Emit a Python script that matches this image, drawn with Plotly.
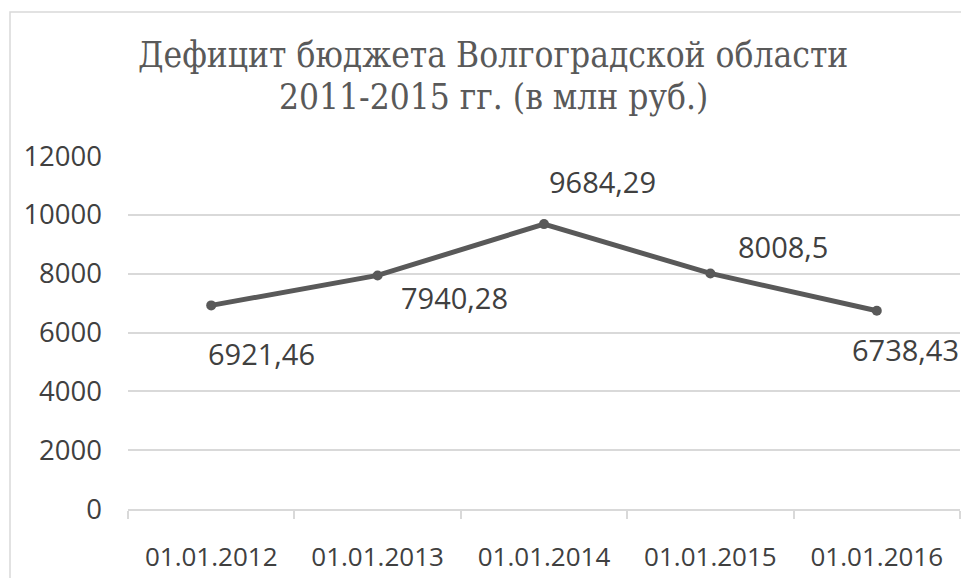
import plotly.graph_objects as go

categories = ["01.01.2012", "01.01.2013", "01.01.2014", "01.01.2015", "01.01.2016"]
values = [6921.46, 7940.28, 9684.29, 8008.5, 6738.43]
title_lines = ["Дефицит бюджета Волгоградской области", "2011-2015 гг. (в млн руб.)"]
y_ticks = [0, 2000, 4000, 6000, 8000, 10000, 12000]

# label placement offsets (pixels) relative to each point
label_dx = [-5, 21, 3, 26, -27]
label_dy = [-48, -22, 43, 27, -39]

W, H = 961, 578
L, R, T, B = 128, 1, 156, 69
pw, ph = W - L - R, H - T - B

def px_to_paper_x(px):
    return (px - L) / pw

def px_to_paper_y(py):
    return 1 + (T - py) / ph

fig = go.Figure()
fig.add_trace(go.Scatter(
    x=categories, y=values, mode="lines+markers",
    line=dict(color="#595959", width=5),
    marker=dict(color="#595959", size=10),
    hoverinfo="skip", showlegend=False,
))

annotations = []
for c, v, dx, dy in zip(categories, values, label_dx, label_dy):
    annotations.append(dict(
        x=c, y=v, xref="x", yref="y", text=f"{v:g}".replace(".", ","),
        showarrow=False, xanchor="left", yanchor="middle",
        xshift=dx, yshift=dy,
        font=dict(family="Open Sans", size=29, color="#404040"),
    ))

title_centres = [54.5, 97.5]
for line, cy in zip(title_lines, title_centres):
    annotations.append(dict(
        x=px_to_paper_x(493), y=px_to_paper_y(cy), xref="paper", yref="paper",
        text=line, showarrow=False, xanchor="center", yanchor="middle",
        font=dict(family="DejaVu Serif Condensed, DejaVu Serif", size=35, color="#595959"),
    ))

fig.update_layout(
    width=W, height=H,
    margin=dict(l=L, r=R, t=T, b=B, pad=0),
    paper_bgcolor="white", plot_bgcolor="white",
    annotations=annotations,
    xaxis=dict(
        type="category", range=[-0.5, 4.5], tickson="boundaries",
        ticks="outside", ticklen=8, tickcolor="#d9d9d9", tickwidth=1.5,
        showgrid=False, showline=True, linecolor="#d9d9d9", linewidth=1.5,
        tickfont=dict(family="Open Sans", size=26, color="#404040"),
        ticklabelstandoff=24, zeroline=False,
    ),
    yaxis=dict(
        range=[0, 12000], tickvals=y_ticks, tickformat="d",
        showgrid=True, gridcolor="#d9d9d9", gridwidth=1.5,
        zeroline=False, showline=False, ticks="",
        tickfont=dict(family="Open Sans", size=27.5, color="#404040"),
        ticklabelstandoff=25,
    ),
    shapes=[dict(
        type="rect", xref="paper", yref="paper",
        x0=px_to_paper_x(10), x1=px_to_paper_x(990),
        y0=px_to_paper_y(620), y1=px_to_paper_y(12),
        line=dict(color="#d9d9d9", width=1.5), fillcolor="rgba(0,0,0,0)",
        layer="below",
    )],
)

fig.write_html("out.html", config={"displayModeBar": False},
               post_script="document.body.style.margin='0';")
